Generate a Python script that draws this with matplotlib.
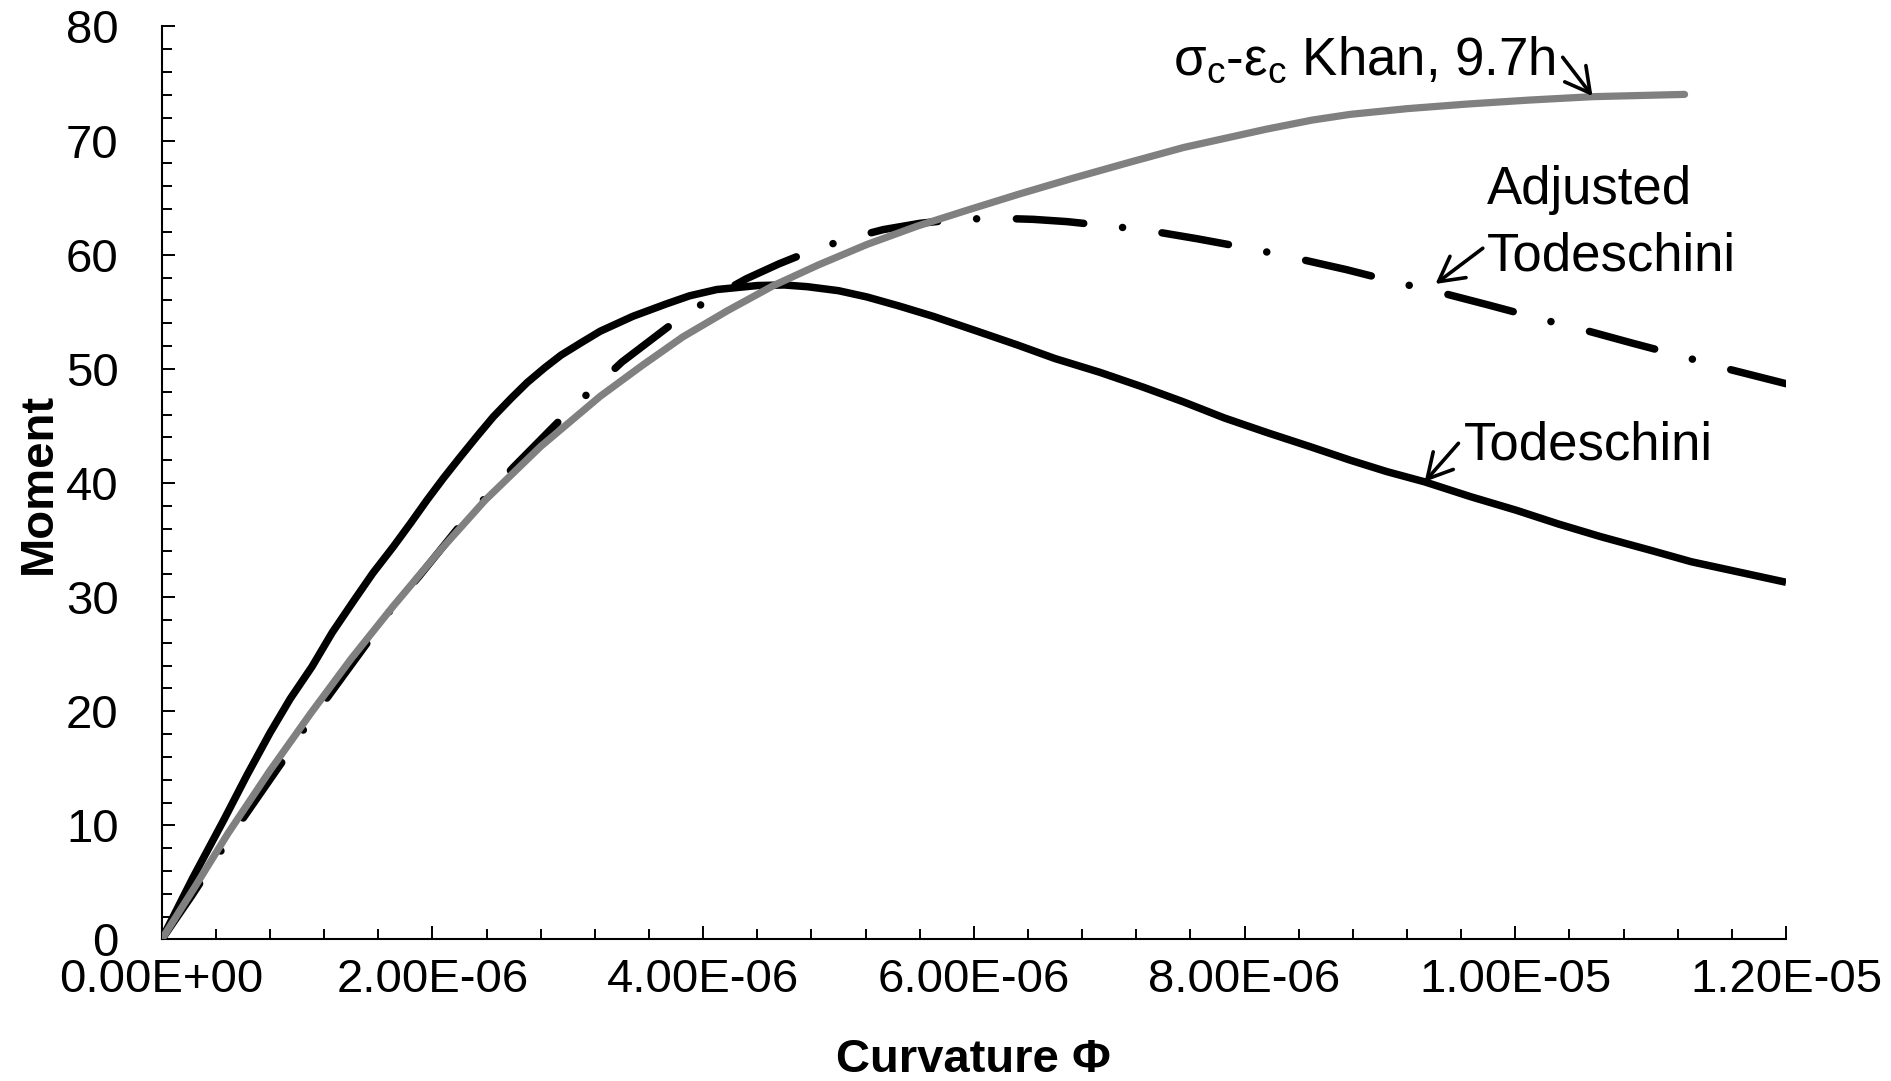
import numpy as np
import matplotlib
matplotlib.use("Agg")
import matplotlib.pyplot as plt
from matplotlib.ticker import MultipleLocator, FuncFormatter

plt.rcParams['font.family'] = ['Liberation Sans', 'DejaVu Sans']
plt.rcParams['mathtext.default'] = 'regular'

# curvature values are in units of 1e-6
phi_tod = [0, 0.23, 0.46, 0.63, 0.80, 0.95, 1.11, 1.26, 1.42, 1.56, 1.71, 1.84,
           1.96, 2.08, 2.20, 2.33, 2.45, 2.58, 2.70, 2.83, 2.95, 3.10, 3.24,
           3.48, 3.73, 3.90, 4.10, 4.40, 4.60, 4.77, 5.00, 5.21, 5.45, 5.70,
           6.00, 6.32, 6.60, 6.93, 7.25, 7.55, 7.85, 8.17, 8.48, 8.78, 9.05,
           9.33, 9.67, 10.01, 10.32, 10.63, 11.00, 11.30, 11.65, 12.00]
m_tod = [0, 5.4, 10.5, 14.4, 18.1, 21.1, 23.9, 26.9, 29.7, 32.1, 34.4, 36.5,
         38.5, 40.4, 42.2, 44.1, 45.8, 47.4, 48.8, 50.1, 51.2, 52.3, 53.3,
         54.6, 55.7, 56.4, 56.95, 57.3, 57.35, 57.2, 56.85, 56.3, 55.5, 54.6,
         53.4, 52.1, 50.9, 49.7, 48.4, 47.1, 45.7, 44.4, 43.2, 42.0, 41.0,
         40.1, 38.8, 37.6, 36.4, 35.3, 34.1, 33.1, 32.2, 31.3]

phi_adj = [0, 0.22, 0.44, 0.60, 0.91, 1.06, 1.23, 1.55, 1.71, 1.90, 2.22, 2.60,
           3.00, 3.40, 3.81, 4.06, 4.32, 4.56, 4.81, 5.07, 5.33, 5.60, 5.88,
           6.17, 6.44, 6.69, 6.93, 7.25, 7.65, 8.06, 8.34, 8.75, 9.15, 9.41,
           9.80, 10.21, 10.48, 10.85, 11.20, 11.60, 12.00]
m_adj = [0, 3.8, 7.8, 10.6, 15.9, 18.6, 21.3, 26.5, 29.2, 31.8, 36.5, 41.4,
         46.2, 50.6, 54.3, 56.2, 57.9, 59.2, 60.4, 61.4, 62.2, 62.75, 63.1,
         63.2, 63.1, 62.9, 62.6, 62.2, 61.4, 60.5, 59.8, 58.7, 57.5, 56.8,
         55.6, 54.3, 53.5, 52.3, 51.2, 49.9, 48.7]

phi_khan = [0, 0.25, 0.49, 0.80, 1.10, 1.40, 1.71, 2.05, 2.39, 2.80, 3.24, 3.55,
            3.85, 4.18, 4.52, 4.85, 5.21, 5.58, 5.95, 6.33, 6.73, 7.15, 7.55,
            8.16, 8.50, 8.78, 9.20, 9.64, 10.10, 10.57, 11.25]
m_khan = [0, 4.7, 9.3, 14.8, 19.8, 24.6, 29.2, 34.0, 38.5, 43.2, 47.6, 50.3,
          52.8, 55.1, 57.3, 59.1, 60.9, 62.5, 63.9, 65.3, 66.7, 68.1, 69.4,
          71.0, 71.8, 72.3, 72.8, 73.2, 73.55, 73.85, 74.05]

x_ticks = [0, 2e-6, 4e-6, 6e-6, 8e-6, 1e-5, 1.2e-5]
y_ticks = [0, 10, 20, 30, 40, 50, 60, 70, 80]

fig = plt.figure(figsize=(18.91, 10.81), dpi=100)
ax = fig.add_axes([0.0855, 0.1309, 0.859, 0.8446])

u = 1e-6
ax.plot(np.array(phi_tod) * u, m_tod, color='black', lw=5.4,
        solid_capstyle='butt', solid_joinstyle='round', zorder=2)
ax.plot(np.array(phi_adj) * u, m_adj, color='black', lw=5.4,
        dashes=(9.0, 5.2, 0.01, 5.3), dash_capstyle='round',
        dash_joinstyle='round', zorder=2)
ax.plot(np.array(phi_khan) * u, m_khan, color='#808080', lw=5.2,
        solid_capstyle='round', solid_joinstyle='round', zorder=3)

ax.set_xlim(0, 1.2e-5)
ax.set_ylim(0, 80)
ax.set_xticks(x_ticks)
ax.set_yticks(y_ticks)
ax.xaxis.set_minor_locator(MultipleLocator(4e-7))
ax.yaxis.set_minor_locator(MultipleLocator(2))
ax.xaxis.set_major_formatter(FuncFormatter(lambda v, p: f"{v:.2E}"))

for side in ['top', 'right']:
    ax.spines[side].set_visible(False)
for side in ['left', 'bottom']:
    ax.spines[side].set_linewidth(1.5)

ax.tick_params(axis='both', which='both', direction='in', width=1.4,
               labelsize=34)
ax.tick_params(axis='both', which='major', length=9.5)
ax.tick_params(axis='both', which='minor', length=7)
ax.tick_params(axis='x', which='major', pad=13)
ax.tick_params(axis='y', which='major', pad=31)

ax.set_ylabel('Moment', fontsize=34, fontweight='bold')
ax.set_xlabel('Curvature Φ', fontsize=34, fontweight='bold')
ax.yaxis.set_label_coords(-0.062, 0.5)
ax.xaxis.set_label_coords(0.5, -0.108)

# curve labels with pointer arrows
arrow = dict(arrowstyle='->,head_length=0.55,head_width=0.3', lw=2.6,
             color='black', shrinkA=0, shrinkB=0, mutation_scale=32)

ax.text(10.30 * u, 75.75, r'$σ_c$-$ε_c$ Khan, 9.7h', fontsize=38,
        ha='right', va='baseline')
ax.annotate('', xy=(10.57 * u, 73.9), xytext=(10.35 * u, 77.3),
            arrowprops=arrow)

ax.text(9.79 * u, 58.66, 'Adjusted\nTodeschini', fontsize=38, ha='left',
        va='baseline', linespacing=1.42)
ax.annotate('', xy=(9.41 * u, 57.44), xytext=(9.76 * u, 60.57),
            arrowprops=arrow)

ax.text(9.62 * u, 42.02, 'Todeschini', fontsize=38, ha='left', va='baseline')
ax.annotate('', xy=(9.33 * u, 40.1), xytext=(9.58 * u, 43.48),
            arrowprops=arrow)

fig.savefig('out.png', dpi=100)
